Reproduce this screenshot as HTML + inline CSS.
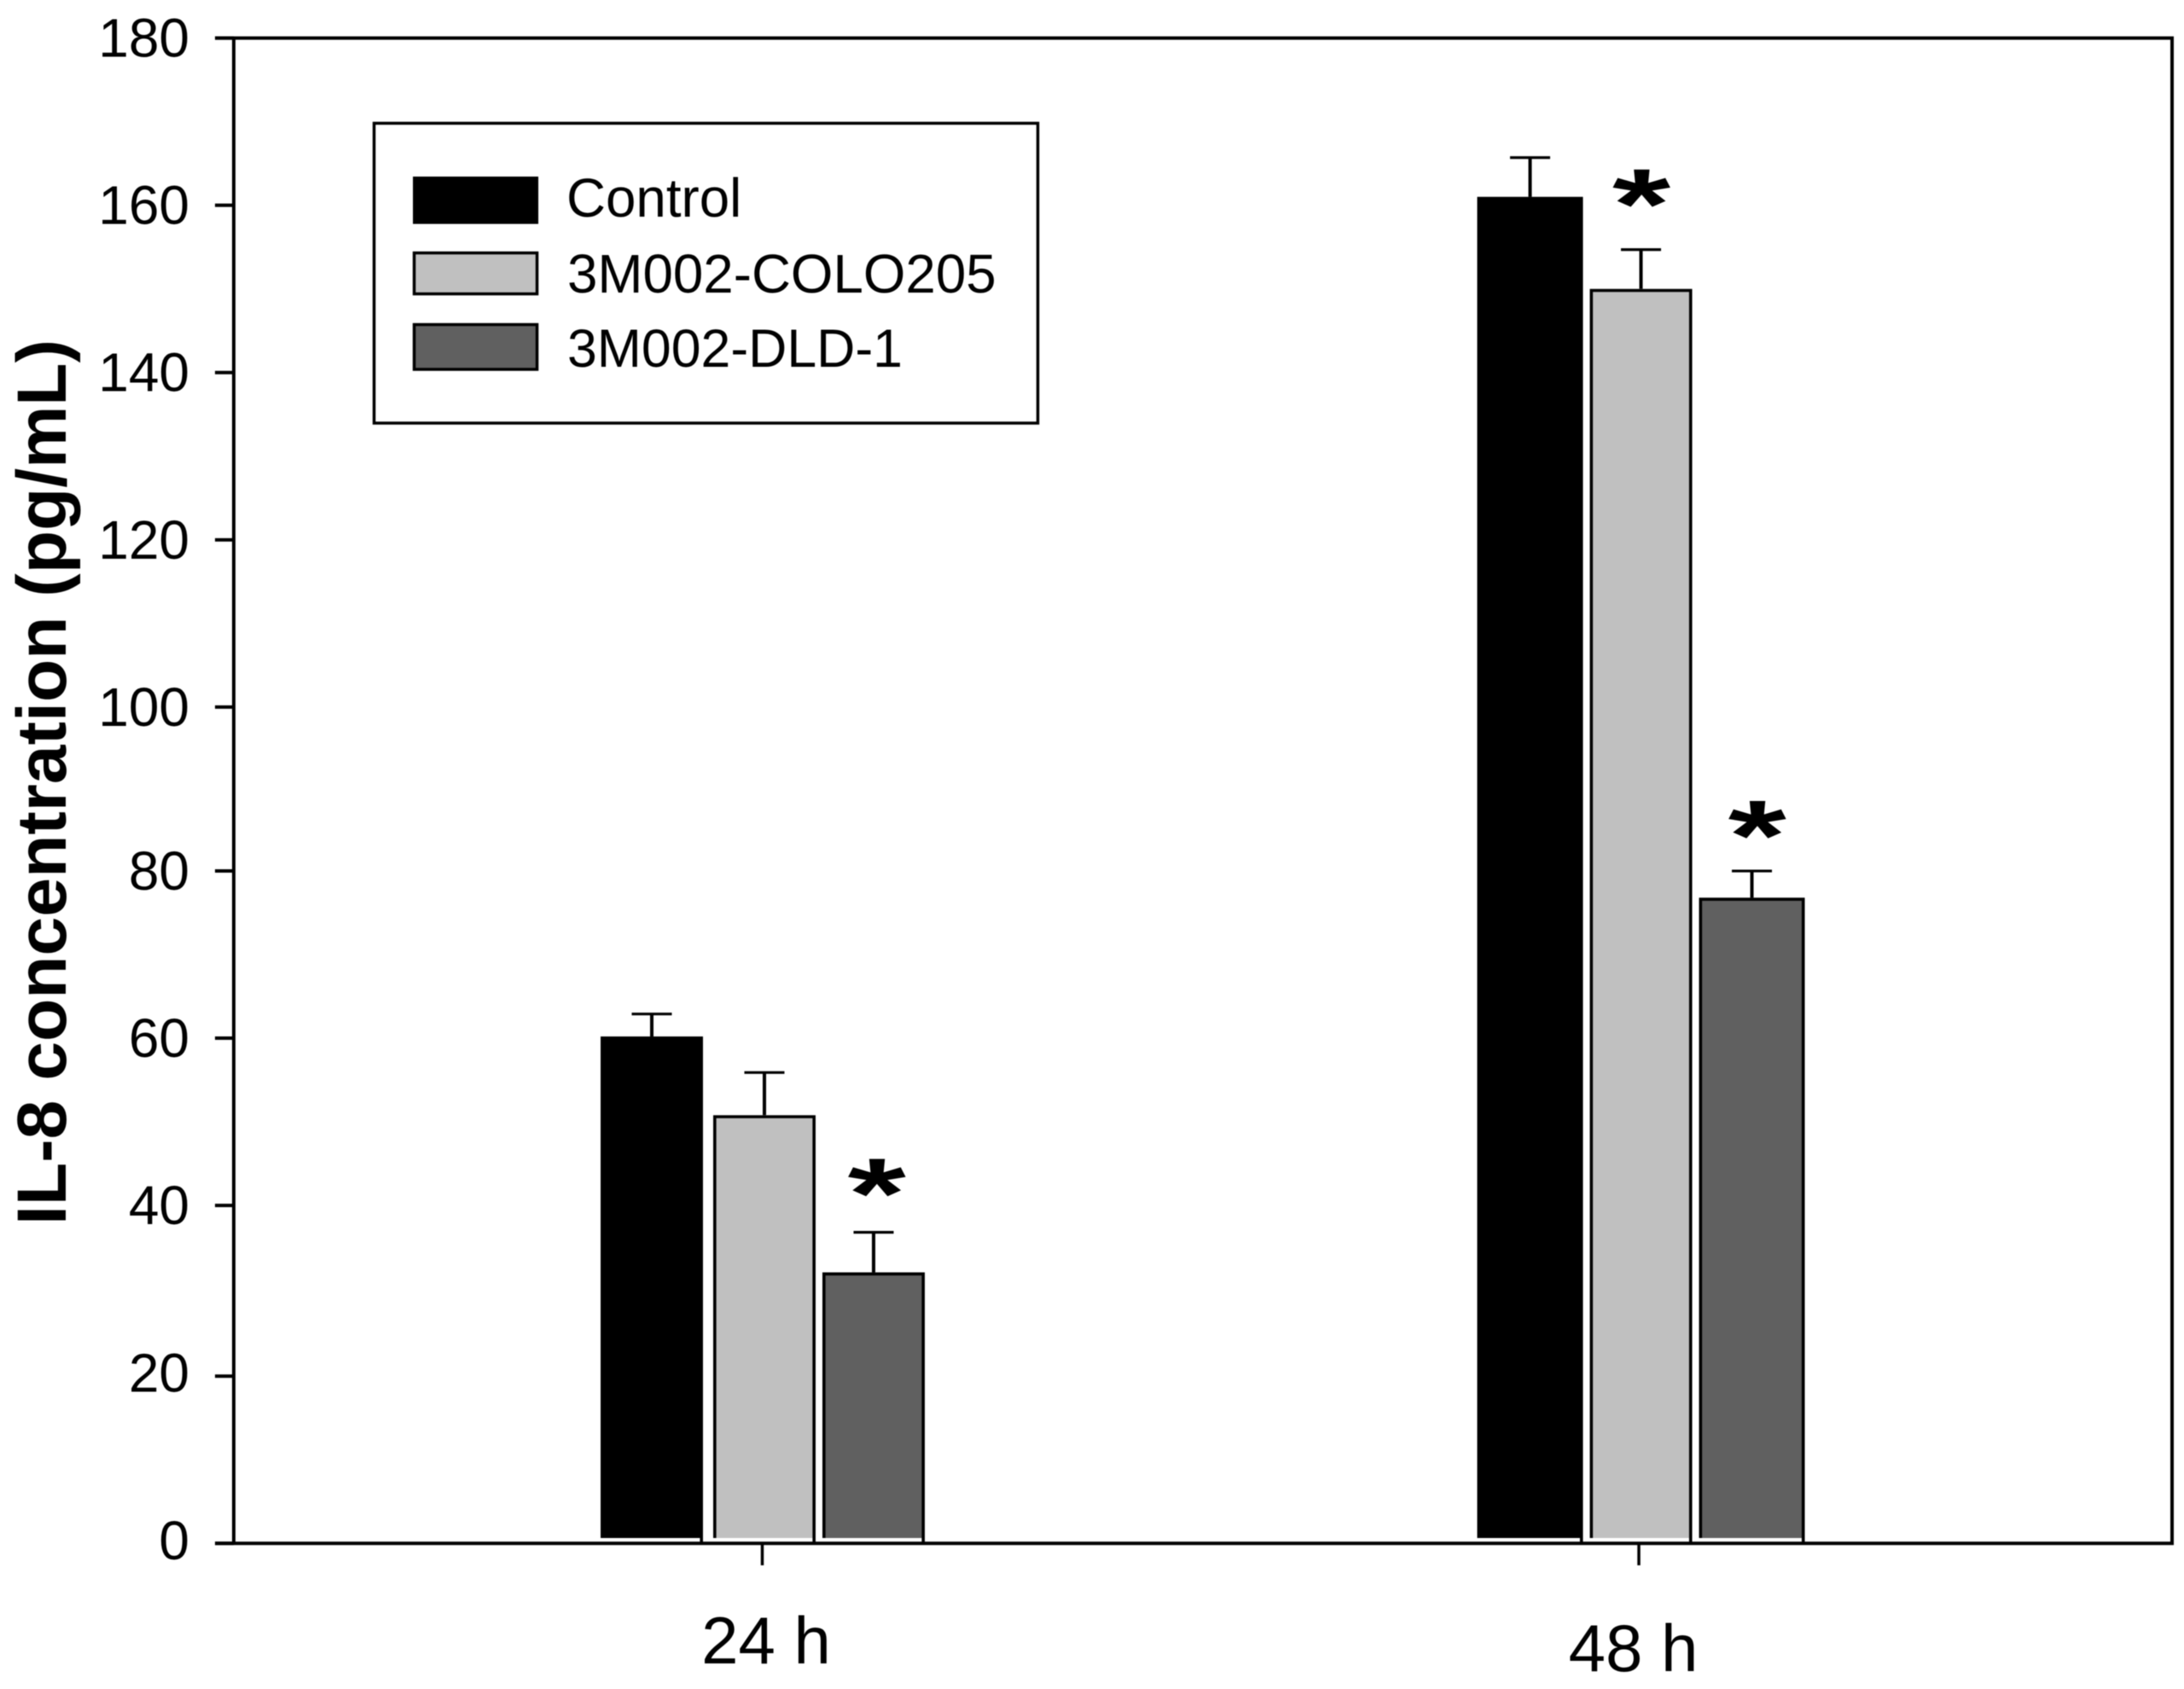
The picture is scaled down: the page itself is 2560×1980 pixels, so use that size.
<!DOCTYPE html>
<html lang="en">
<head>
<meta charset="utf-8">
<title>IL-8 concentration chart</title>
<style>
  html, body { margin: 0; padding: 0; background: #fff; }
  svg { display: block; filter: blur(0.6px); }
  text { font-family: "Liberation Sans", Arial, sans-serif; fill: #000; }
</style>
</head>
<body>
<svg id="chart" xmlns="http://www.w3.org/2000/svg" width="2560" height="1980" viewBox="0 0 2560 1980">
  <rect x="0" y="0" width="2560" height="1980" fill="#fff"/>
  <text transform="translate(77,917) rotate(-90)" text-anchor="middle" font-size="82" font-weight="700" textLength="1038" lengthAdjust="spacingAndGlyphs">IL-8 concentration (pg/mL)</text>
  <g id="plot"></g>
  <g>
    <rect x="438.5" y="144.5" width="778" height="351.5" fill="#fff" stroke="#000" stroke-width="3.5"/>
    <g>
      <rect x="484" y="207" width="147" height="55.5" fill="#000"/>
      <text x="664" y="254" font-size="63.7">Control</text>
    </g>
    <g>
      <rect x="485.5" y="296.5" width="144" height="48" fill="#c0c0c0" stroke="#000" stroke-width="3.5"/>
      <text x="665" y="343" font-size="63.7">3M002-COLO205</text>
    </g>
    <g>
      <rect x="485.5" y="380.5" width="144" height="52.5" fill="#606060" stroke="#000" stroke-width="3.5"/>
      <text x="665" y="430" font-size="63" textLength="393" lengthAdjust="spacingAndGlyphs">3M002-DLD-1</text>
    </g>
  </g>
</svg>
<script>
// Chart data
const categories = ["24 h", "48 h"];
const seriesNames = ["control", "colo205", "dld1"];
const controlValues = [60.6, 161];
const colo205Values = [51.2, 150];
const dld1Values = [32.4, 77.2];
const controlErrors = [2.7, 4.7];
const colo205Errors = [5.1, 4.7];
const dld1Errors = [4.8, 3.2];
const significanceHeights = [[null, null, 43.8], [null, 162.1, 86.6]];
const yTickValues = [0, 20, 40, 60, 80, 100, 120, 140, 160, 180];

// Layout
const values = [controlValues, colo205Values, dld1Values];
const errors = [controlErrors, colo205Errors, dld1Errors];
const fills = ["#000000", "#c0c0c0", "#606060"];
const Y_ZERO = 1809.3, Y_SCALE = 9.804;
const AXIS_LEFT = 274, AXIS_RIGHT = 2546;
const BAR_FLOOR = 1803;
const y = v => Y_ZERO - v * Y_SCALE;
// Ticks in the source were snapped to a coarse pixel grid: 40-80 sit slightly high.
const yTick = v => y(v) - (v >= 40 && v <= 80 ? 4 : 0);
const yLabelBase = v => yTick(v) + (v <= 20 ? 18.5 : 22);
const x = i => 893.5 + 1027.5 * i;
const barLeft = (c, s) => x(c) - 189.5 + 132 * s - (s === 2 ? 4 : 0);
const barWidth = (c, s) => 120 + (c === 1 && s !== 1 ? 4 : 0);
const starShift = (c, s) => (c === 0 ? 3.7 : (s === 1 ? 0.5 : 6.2));
const xLabelShift = i => 4.5 - 11 * i;
const xLabelBase = i => 1950 + 9 * i;

const NS = "http://www.w3.org/2000/svg";
const plot = document.getElementById("plot");
function make(tag, attrs, parent) {
  const el = document.createElementNS(NS, tag);
  for (const k in attrs) el.setAttribute(k, attrs[k]);
  (parent || plot).appendChild(el);
  return el;
}

// Bars, error bars and significance marks
categories.forEach((cat, c) => {
  seriesNames.forEach((name, s) => {
    const left = barLeft(c, s), w = barWidth(c, s), top = y(values[s][c]), cx = left + w / 2;
    const errTop = y(values[s][c] + errors[s][c]);

    const stem = make("line", { x1: cx, x2: cx, y1: errTop, y2: top, stroke: "#000", "stroke-width": 4 });
    
    
    const cap = make("line", { x1: cx - 23.5, x2: cx + 23.5, y1: errTop, y2: errTop, stroke: "#000", "stroke-width": 3.2 });
    
    

    const bar = make("rect", { x: left, y: top, width: w, height: BAR_FLOOR - top, fill: fills[s] });
    
    
    const edge = make("path", {
      d: "M" + (left + 1.8) + " " + BAR_FLOOR + "V" + (top + 1.8) + "H" + (left + w - 1.8) + "V" + Y_ZERO,
      fill: "none", stroke: "#000", "stroke-width": 3.6
    });
    
    

    const h = significanceHeights[c][s];
    if (h !== null) {
      const star = make("text", {
        x: 0, y: 71, "text-anchor": "middle", "font-size": 140, "font-weight": 700,
        transform: "translate(" + (cx + starShift(c, s)) + "," + y(h) + ") scale(1.25,0.84)"
      });
      star.textContent = "*";
      
      
    }
  });
});

// Axes frame
const frame = [
  ["axis-left", AXIS_LEFT, y(180), AXIS_LEFT, Y_ZERO, 4],
  ["axis-top", 252, y(180), AXIS_RIGHT + 2, y(180), 4],
  ["axis-right", AXIS_RIGHT, y(180), AXIS_RIGHT, Y_ZERO, 4],
  ["axis-bottom", 252, Y_ZERO, AXIS_RIGHT + 2, Y_ZERO, 4]
];
frame.forEach(f => {
  const l = make("line", { x1: f[1], y1: f[2], x2: f[3], y2: f[4], stroke: "#000", "stroke-width": f[5] });
  
  
});

// Y ticks
yTickValues.forEach(v => {
  const t = make("line", { x1: 252, x2: AXIS_LEFT, y1: yTick(v), y2: yTick(v), stroke: "#000", "stroke-width": 4 });
  
  
  const lab = make("text", { x: 222, y: yLabelBase(v), "text-anchor": "end", "font-size": 64 });
  lab.textContent = String(v);
  
  
});

// X ticks
categories.forEach((cat, i) => {
  const t = make("line", { x1: x(i), x2: x(i), y1: Y_ZERO, y2: 1835, stroke: "#000", "stroke-width": 3.5 });
  
  
  const lab = make("text", { x: x(i) + xLabelShift(i), y: xLabelBase(i), "text-anchor": "middle", "font-size": 78 });
  lab.textContent = cat;
  
  
});
</script>
</body>
</html>
